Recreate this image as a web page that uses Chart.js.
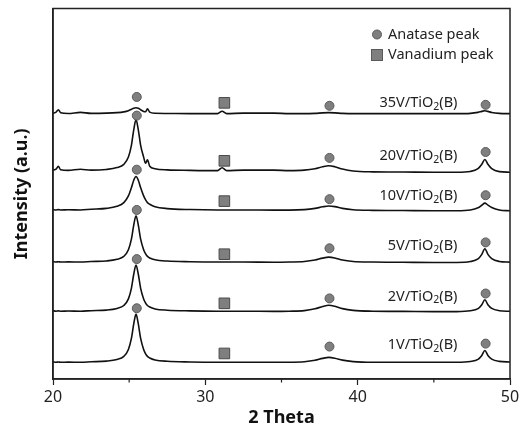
<!DOCTYPE html>
<html>
<head>
<meta charset="utf-8">
<script src="https://cdn.jsdelivr.net/npm/chart.js@4/dist/chart.umd.min.js"></script>
<style>body{margin:0;background:#fff}</style>
</head>
<body>
<canvas id="chart" width="527" height="435"></canvas>
<script>
// 2 theta grid (deg) and offset intensities (a.u.)
const twoTheta = [20.0, 20.2, 20.35, 20.5, 21.0, 21.8, 22.5, 23.5, 24.2, 24.65, 24.95, 25.15, 25.3, 25.45, 25.6, 25.75, 25.95, 26.08, 26.2, 26.35, 26.7, 27.5, 29.0, 30.8, 31.1, 31.4, 32.5, 34.5, 35.5, 36.5, 37.2, 37.7, 38.1, 38.5, 39.0, 39.7, 41.0, 43.0, 45.0, 46.5, 47.4, 47.9, 48.15, 48.35, 48.55, 48.8, 49.3, 50.0];

const int35V = [270.3, 271.5, 274, 271, 270.2, 271.3, 270.3, 270.5, 271, 271.8, 273, 274.5, 275.6, 276, 275.4, 274, 272.3, 272, 275, 271.5, 270.4, 270.2, 270, 270, 272.5, 270, 270.5, 270.5, 270, 270, 270.3, 270.8, 271, 270.8, 270.3, 270, 270, 270, 270, 270, 270.3, 271.3, 272.3, 273, 272.3, 271.2, 270.3, 270];
const int20V = [212.5, 213.5, 216.5, 213, 212.3, 213.5, 212.5, 213.2, 215.1, 218.4, 225.8, 238, 253.6, 264, 253.6, 238, 225.8, 219.5, 223, 216.5, 214, 212.8, 212.3, 212, 215, 212, 212.5, 212.5, 212, 212.5, 214, 216, 217, 216, 213.6, 211.6, 210.8, 210.6, 210.4, 210.4, 211.2, 214, 218.5, 223.4, 218.5, 214, 211, 210.4];
const int10V = [172.5, 172, 172.3, 172, 172.2, 172, 172.7, 173.6, 175.7, 179.5, 186.3, 194.8, 202.3, 206, 202.3, 194.8, 186.3, 182.2, 179.5, 177.8, 175.3, 173.4, 172.4, 172, 172, 172, 172, 171.8, 171.8, 172.3, 173.6, 175.2, 176, 175.4, 173.6, 172.2, 171.6, 171.4, 171.2, 171.2, 172, 174.2, 176.8, 179, 177, 174.6, 172, 171.2];
const int5V = [119.5, 119, 119.3, 119, 119.2, 119, 119.5, 120.1, 121.8, 124.8, 131.5, 142.5, 156.6, 166, 156.6, 142.5, 131.5, 127.3, 124.8, 123.2, 121.3, 120, 119.3, 119, 119, 119, 119, 118.8, 119, 119.5, 121, 123, 124, 123.2, 121, 119.6, 119, 118.8, 118.6, 118.6, 119.5, 122.2, 126.8, 132.6, 126.8, 122.4, 119.6, 118.9];
const int2V = [69.5, 69, 69.3, 69, 69.2, 69, 69.5, 70.1, 71.8, 74.8, 81.5, 92.5, 106.6, 116, 106.6, 92.5, 81.5, 77.3, 74.8, 73.2, 71.3, 70, 69.3, 69, 69, 69, 69, 68.8, 69, 69.6, 71.4, 73.8, 75, 74, 71.6, 69.8, 69, 68.8, 68.6, 68.6, 69.4, 71.6, 75.6, 80.6, 75.6, 71.8, 69.5, 68.9];
const int1V = [17.5, 17, 17.3, 17, 17.2, 17, 17.5, 18.2, 19.9, 23, 30, 41.5, 56, 66, 56, 41.5, 30, 25.6, 23, 21.4, 19.4, 18, 17.3, 17, 17, 17, 17, 17, 17, 17.5, 19, 21, 22, 21.2, 19.2, 17.7, 17, 17, 17, 17, 17.8, 20, 24, 29, 24, 20.2, 17.9, 17.3];

const sampleNames = ['35V', '20V', '10V', '5V', '2V', '1V'];
const sampleSeries = [int35V, int20V, int10V, int5V, int2V, int1V];

// peak markers
const anatasePeaks = [25.5, 38.15, 48.4];
const anataseMarkY = [[287, 278, 279], [268, 225, 231], [213, 183, 187], [172, 133, 139], [122, 82, 87], [72, 33, 36]];
const vanadiumPeak = 31.25;
const vanadiumMarkY = [281, 222, 181, 127, 77, 26];

// sample label anchors (right edge in 2 theta, centre in a.u.)
const labelRight = 46.55;
const labelY = [281, 227, 186, 135, 84, 35];

const xTicks = [20, 30, 40, 50];

const FONT = '"Noto Sans", "DejaVu Sans", sans-serif';
const GREY = '#7f7f7f';

const lineSets = sampleSeries.map((vals, i) => ({
  label: sampleNames[i],
  data: twoTheta.map((t, k) => ({x: t, y: vals[k]})),
  borderColor: '#111',
  borderWidth: 1.6,
  pointRadius: 0,
  cubicInterpolationMode: 'monotone',
  order: 2
}));

const anataseSet = {
  type: 'scatter',
  label: 'Anatase peak',
  data: anataseMarkY.flatMap(row => row.map((v, k) => ({x: anatasePeaks[k], y: v}))),
  pointStyle: 'circle',
  pointRadius: 4.5,
  backgroundColor: GREY,
  borderColor: '#5a5a5a',
  borderWidth: 1,
  order: 1
};

const vanadiumSet = {
  type: 'scatter',
  label: 'Vanadium peak',
  data: vanadiumMarkY.map(v => ({x: vanadiumPeak, y: v})),
  pointStyle: 'rect',
  pointRadius: 7.5,
  backgroundColor: GREY,
  borderColor: '#4a4a4a',
  borderWidth: 1,
  order: 1
};

function drawSampleLabel(ctx, name, right, cy) {
  const parts = [[name + '/TiO', '14.5px ' + FONT, 0], ['2', '10.5px ' + FONT, 4], ['(B)', '14.5px ' + FONT, 0]];
  let w = 0;
  parts.forEach(p => { ctx.font = p[1]; w += ctx.measureText(p[0]).width; });
  let px = right - w;
  parts.forEach(p => {
    ctx.font = p[1];
    ctx.fillText(p[0], px, cy + p[2]);
    px += ctx.measureText(p[0]).width;
  });
}

const overlay = {
  id: 'overlay',
  afterDraw(chart) {
    const {ctx, chartArea: a, scales: {x, y}} = chart;
    ctx.save();
    ctx.strokeStyle = '#222';
    ctx.lineWidth = 1.5;
    ctx.strokeRect(a.left, a.top, a.right - a.left, a.bottom - a.top);

    // minor ticks
    ctx.lineWidth = 1.2;
    ctx.beginPath();
    [25, 35, 45].forEach(v => {
      const px = x.getPixelForValue(v);
      ctx.moveTo(px, a.bottom);
      ctx.lineTo(px, a.bottom + 3.5);
    });
    ctx.stroke();

    ctx.fillStyle = '#222';
    ctx.textAlign = 'left';
    ctx.textBaseline = 'middle';
    sampleNames.forEach((name, i) => {
      drawSampleLabel(ctx, name, x.getPixelForValue(labelRight), y.getPixelForValue(labelY[i]));
    });

    // legend
    const lx = a.right - 133, ly = a.top + 26;
    ctx.fillStyle = GREY;
    ctx.strokeStyle = '#5a5a5a';
    ctx.lineWidth = 1;
    ctx.beginPath();
    ctx.arc(lx, ly, 4.5, 0, Math.PI * 2);
    ctx.fill();
    ctx.stroke();
    ctx.fillRect(lx - 5.5, ly + 15, 11, 11);
    ctx.strokeRect(lx - 5.5, ly + 15, 11, 11);
    ctx.fillStyle = '#222';
    ctx.font = '14.5px ' + FONT;
    ctx.fillText('Anatase peak', lx + 11, ly);
    ctx.fillText('Vanadium peak', lx + 11, ly + 20.5);
    ctx.restore();
  }
};

new Chart(document.getElementById('chart'), {
  type: 'line',
  data: {datasets: [...lineSets, anataseSet, vanadiumSet]},
  options: {
    responsive: false,
    animation: false,
    layout: {padding: {top: 2, right: 17, left: 0, bottom: 0}},
    plugins: {legend: {display: false}, tooltip: {enabled: false}},
    scales: {
      x: {
        type: 'linear',
        min: 20,
        max: 50,
        afterFit: s => { s.height = 56; },
        afterBuildTicks: s => { s.ticks = [20, 25, 30, 35, 40, 45, 50].map(v => ({value: v})); },
        ticks: {
          autoSkip: false,
          maxRotation: 0,
          padding: 3,
          color: '#222',
          font: {family: FONT, size: 16},
          callback: v => xTicks.includes(v) ? String(v) : ''
        },
        grid: {
          drawOnChartArea: false,
          tickLength: 6,
          tickWidth: 1.2,
          tickColor: c => (c.tick && xTicks.includes(c.tick.value)) ? '#222' : 'rgba(0,0,0,0)'
        },
        border: {display: true, color: '#222', width: 1.5},
        title: {
          display: true,
          text: '2 Theta',
          color: '#111',
          font: {family: FONT, size: 18, weight: 'bold'},
          padding: {top: 0, bottom: 6}
        }
      },
      y: {
        min: 0,
        max: 377,
        afterFit: s => { s.width = 53; },
        ticks: {display: false},
        grid: {display: false},
        border: {display: true, color: '#222', width: 1.5},
        title: {
          display: true,
          text: 'Intensity (a.u.)',
          color: '#111',
          font: {family: FONT, size: 18, weight: 'bold'},
          padding: {top: 11, bottom: 0}
        }
      }
    }
  },
  plugins: [overlay]
});
</script>
</body>
</html>
